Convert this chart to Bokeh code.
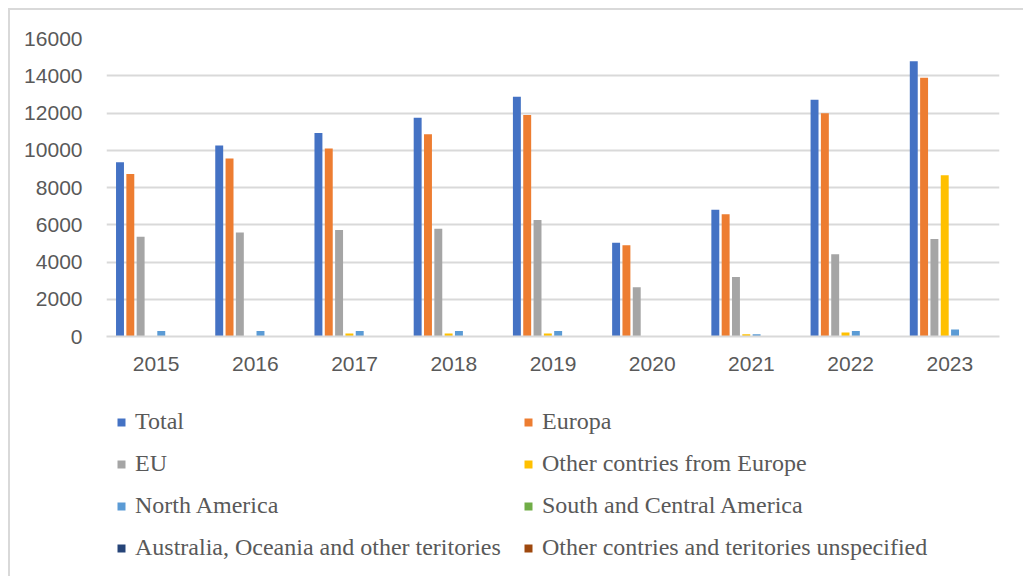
from bokeh.plotting import figure
from bokeh.layouts import column
from bokeh.models import FactorRange, Range1d, Legend, LegendItem, ColumnDataSource, SingleIntervalTicker, NumeralTickFormatter
from bokeh.transform import dodge
from bokeh.embed import file_html
from bokeh.resources import INLINE

years = ["2015", "2016", "2017", "2018", "2019", "2020", "2021", "2022", "2023"]
series_names = [
    "Total", "Europa", "EU", "Other contries from Europe",
    "North America", "South and Central America",
    "Australia, Oceania and other teritories",
    "Other contries and teritories unspecified",
]
total = [9350, 10250, 10930, 11750, 12870, 5030, 6800, 12710, 14780]
europa = [8730, 9560, 10090, 10860, 11890, 4900, 6560, 11980, 13890]
eu = [5360, 5580, 5720, 5780, 6250, 2640, 3190, 4420, 5240]
other_europe = [20, 20, 160, 160, 160, 0, 120, 210, 8660]
north_america = [300, 300, 300, 300, 300, 0, 120, 300, 370]
south_central_america = [0, 0, 0, 0, 0, 0, 0, 0, 0]
australia_oceania = [0, 0, 0, 0, 0, 0, 0, 0, 0]
other_unspecified = [0, 0, 0, 0, 0, 0, 0, 0, 0]

series_values = [total, europa, eu, other_europe, north_america,
                 south_central_america, australia_oceania, other_unspecified]
colors = ["#4472C4", "#ED7D31", "#A5A5A5", "#FFC000",
          "#5B9BD5", "#70AD47", "#264478", "#9E480E"]

data = {"year": years}
for i, vals in enumerate(series_values):
    data[f"s{i}"] = vals
source = ColumnDataSource(data)

p = figure(x_range=FactorRange(*years), y_range=Range1d(0, 16000),
           width=1013, height=388, output_backend="svg", toolbar_location=None,
           min_border_left=96, min_border_right=24, min_border_top=28,
           min_border_bottom=62)
p.outline_line_color = None
p.background_fill_color = "white"
p.border_fill_color = "white"

step = 0.104
width = 0.08
for i, name in enumerate(series_names):
    p.vbar(x=dodge("year", (i - 3.5) * step, range=p.x_range), top=f"s{i}",
           width=width, source=source, color=colors[i], line_color=None)

p.xgrid.grid_line_color = None
p.ygrid.grid_line_color = "#d9d9d9"
p.ygrid.grid_line_width = 2

p.yaxis.ticker = SingleIntervalTicker(interval=2000)
p.yaxis.formatter = NumeralTickFormatter(format="0")
for ax in (p.xaxis, p.yaxis):
    ax.major_tick_line_color = None
    ax.minor_tick_line_color = None
    ax.major_label_text_font = "Liberation Sans"
    ax.major_label_text_font_size = "21px"
    ax.major_label_text_color = "#595959"
p.yaxis.axis_line_color = None
p.xaxis.axis_line_color = "#d9d9d9"
p.xaxis.axis_line_width = 2
p.yaxis.major_label_standoff = 18
p.xaxis.major_label_standoff = 14

# Legend in its own strip below the chart (hidden proxy renderers)
p2 = figure(x_range=p.x_range, y_range=Range1d(0, 16000),
            width=1013, height=178, output_backend="svg", toolbar_location=None,
            x_axis_location=None, y_axis_location=None,
            min_border_left=96, min_border_right=24, min_border_top=0,
            min_border_bottom=0)
p2.outline_line_color = None
p2.grid.grid_line_color = None
p2.border_fill_color = "white"
items = []
for i, name in enumerate(series_names):
    r = p2.vbar(x=dodge("year", (i - 3.5) * step, range=p.x_range), top=f"s{i}",
                width=width, source=source, color=colors[i], line_color=None,
                visible=False)
    items.append(LegendItem(label=name, renderers=[r], index=0))

legend = Legend(items=items, location="top_left", orientation="horizontal", ncols=2,
                label_text_font="Liberation Serif", label_text_font_size="24px",
                label_text_color="#595959", glyph_width=10, glyph_height=10,
                label_height=20, label_width=373, spacing=15, label_standoff=9,
                padding=0, margin=10, border_line_color=None,
                background_fill_alpha=0, inactive_fill_alpha=0)
p2.add_layout(legend, "center")

layout = column(p, p2, spacing=0,
                styles={"margin-left": "8px", "margin-top": "8px",
                        "border-left": "2px solid #d9d9d9",
                        "border-top": "2px solid #d9d9d9"})

open("out.html", "w").write(file_html(layout, INLINE))
